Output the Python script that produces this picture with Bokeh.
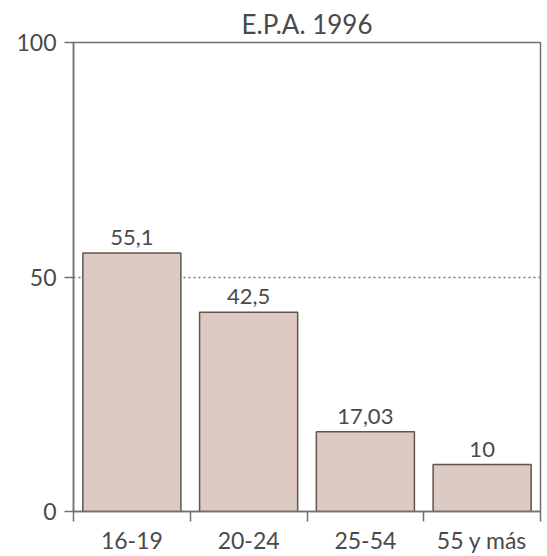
from bokeh.plotting import figure
from bokeh.models import Range1d, FixedTicker, ColumnDataSource
from bokeh.core.properties import value as V
from bokeh.embed import file_html
from bokeh.resources import INLINE

# ---- data ----
title_text = "E.P.A. 1996"
categories = ["16-19", "20-24", "25-54", "55 y más"]
values = [55.1, 42.5, 17.03, 10]
value_labels = ["55,1", "42,5", "17,03", "10"]
y_ticks = [0, 50, 100]
ref_line = [50]

FONT = "Lato"
TXT = "#4a4a4a"
AX = "#707070"

centers = [i + 0.5 for i in range(len(categories))]
bounds = [float(i) for i in range(len(categories) + 1)]

src = ColumnDataSource(dict(x=centers, top=values, lab=value_labels))

p = figure(width=545, height=556, output_backend="svg", toolbar_location=None,
           x_range=Range1d(0, len(categories)), y_range=Range1d(0, 100),
           min_border_left=73, min_border_right=5, min_border_top=42,
           min_border_bottom=43)

p.title.text = title_text
p.title.align = "center"
p.title.text_font = FONT
p.title.text_font_size = "26px"
p.title.text_font_style = "normal"
p.title.text_color = TXT
p.title.standoff = 6

p.vbar(x="x", top="top", width=0.84, source=src,
       fill_color="#ddcac3", line_color="#5e5552", line_width=1.5)

p.text(x="x", y="top", text="lab", source=src, text_align="center",
       text_baseline="bottom", y_offset=-8, text_font=V(FONT),
       text_font_size="22px", text_color=TXT)

# grid: only dotted line at 50
p.xgrid.visible = False
p.ygrid.ticker = FixedTicker(ticks=ref_line)
p.ygrid.grid_line_color = "#777777"
p.ygrid.grid_line_dash = "2 3"
p.ygrid.grid_line_width = 1.3

p.outline_line_color = AX
p.outline_line_width = 1.5
p.background_fill_color = "white"

xa = p.xaxis[0]
xa.ticker = FixedTicker(ticks=centers, minor_ticks=bounds)
xa.major_label_overrides = {c: cat for c, cat in zip(centers, categories)}
xa.major_tick_out = 0
xa.major_tick_in = 0
xa.minor_tick_out = 10
xa.minor_tick_in = 0
xa.minor_tick_line_color = AX
xa.minor_tick_line_width = 1.5
xa.axis_line_color = AX
xa.axis_line_width = 1.5
xa.major_label_text_font = FONT
xa.major_label_text_font_size = "23px"
xa.major_label_text_color = TXT
xa.major_label_standoff = 4

ya = p.yaxis[0]
ya.ticker = FixedTicker(ticks=y_ticks)
ya.major_tick_out = 9
ya.major_tick_in = 0
ya.minor_tick_out = 0
ya.minor_tick_in = 0
ya.major_tick_line_color = AX
ya.major_tick_line_width = 1.5
ya.axis_line_color = AX
ya.axis_line_width = 1.5
ya.major_label_text_font = FONT
ya.major_label_text_font_size = "23px"
ya.major_label_text_color = TXT
ya.major_label_standoff = 8

open("out.html", "w").write(file_html(p, INLINE))
